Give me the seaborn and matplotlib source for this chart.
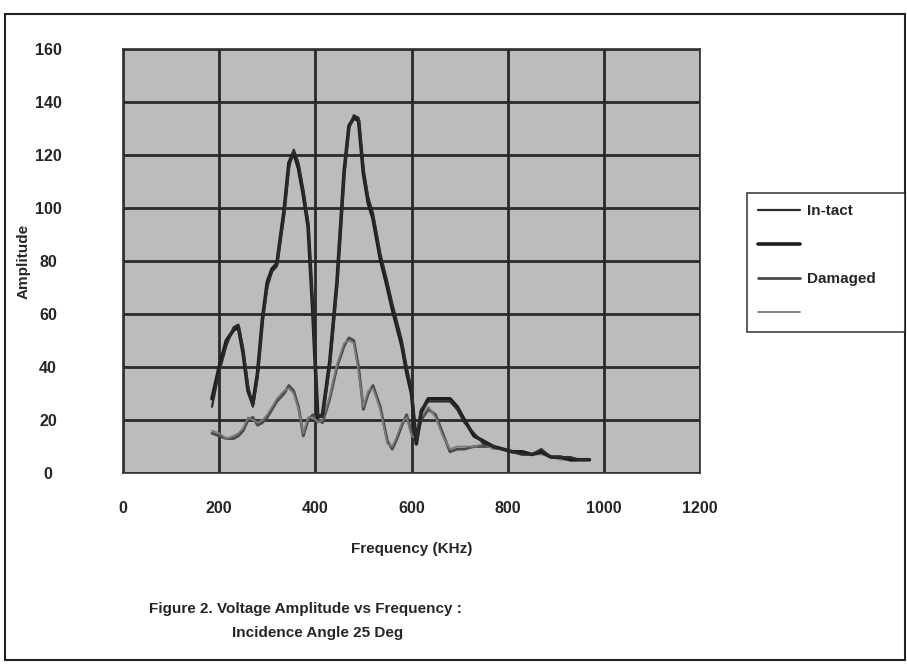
import matplotlib
matplotlib.use("Agg")
import matplotlib.pyplot as plt
import seaborn as sns
import pandas as pd
from matplotlib.patches import Rectangle

# ---- data ----
freq = [185, 200, 215, 230, 240, 250, 260, 270, 280, 290, 300, 310, 320, 335, 345,
        355, 365, 375, 385, 395, 405, 415, 430, 445, 460, 470, 480, 490, 500, 510,
        520, 535, 550, 560, 570, 580, 590, 600, 610, 620, 635, 650, 665, 680, 695,
        710, 730, 750, 770, 790, 810, 830, 850, 870, 890, 910, 930, 950, 970]

intact = [25, 38, 48, 55, 56, 47, 33, 25, 36, 57, 70, 76, 78, 97, 115,
          122, 117, 107, 95, 62, 22, 21, 40, 70, 112, 130, 135, 134, 115, 104,
          98, 83, 72, 64, 57, 50, 40, 32, 12, 24, 27, 27, 27, 27, 24,
          19, 15, 11, 10, 9, 8, 7, 7, 9, 6, 6, 6, 5, 5]

intact_2 = [28, 40, 50, 54, 55, 45, 31, 26, 38, 58, 72, 77, 79, 99, 117,
            121, 115, 105, 93, 60, 21, 22, 42, 72, 114, 131, 134, 133, 113, 102,
            96, 81, 70, 62, 55, 48, 38, 30, 11, 23, 28, 28, 28, 28, 25,
            20, 14, 12, 10, 9, 8, 8, 7, 8, 6, 6, 5, 5, 5]

damaged = [15, 14, 13, 13, 14, 16, 20, 21, 18, 19, 21, 24, 27, 30, 33,
           31, 25, 14, 20, 22, 20, 19, 28, 40, 48, 51, 50, 40, 24, 30,
           33, 25, 12, 9, 13, 18, 22, 15, 12, 20, 24, 22, 15, 8, 9,
           9, 10, 10, 10, 9, 8, 7, 7, 8, 6, 6, 5, 5, 5]

damaged_2 = [16, 15, 13, 14, 15, 17, 21, 20, 19, 20, 22, 25, 28, 31, 32,
             30, 24, 15, 21, 21, 19, 20, 29, 41, 49, 50, 49, 38, 25, 31,
             32, 24, 11, 10, 14, 19, 21, 14, 13, 21, 25, 21, 14, 9, 10,
             10, 10, 11, 9, 9, 8, 7, 7, 7, 6, 5, 5, 5, 5]

series_labels = ["In-tact", "", "Damaged", ""]
x_ticks = [0, 200, 400, 600, 800, 1000, 1200]
y_ticks = [0, 20, 40, 60, 80, 100, 120, 140, 160]

# ---- style ----
sns.set_theme(style="white")
plt.rcParams['font.family'] = ['Liberation Sans Narrow', 'Liberation Sans', 'DejaVu Sans']
plt.rcParams['font.weight'] = 'bold'

W, H = 907, 664
fig = plt.figure(figsize=(W / 100, H / 100), dpi=100)
fig.patch.set_facecolor('white')
ax = fig.add_axes([123 / W, 1 - 473 / H, (700 - 123) / W, (473 - 49) / H])
ax.set_facecolor('#bcbcbc')

styles = [
    dict(color='#2b2b2b', lw=1.6),   # In-tact
    dict(color='#1e1e1e', lw=2.6),   # unnamed
    dict(color='#4a4a4a', lw=2.0),   # Damaged
    dict(color='#7a7a7a', lw=1.3),   # unnamed
]
all_series = [intact, intact_2, damaged, damaged_2]
draw_order = [2, 3, 1, 0]
handles = [None] * 4
for i in draw_order:
    df = pd.DataFrame({'freq': freq, 'amp': all_series[i]})
    sns.lineplot(data=df, x='freq', y='amp', ax=ax, sort=False,
                 estimator=None, **styles[i])
    handles[i] = ax.lines[-1]

ax.set_xlim(0, 1200)
ax.set_ylim(0, 160)
ax.set_xticks(x_ticks)
ax.set_yticks(y_ticks)
ax.set_xticklabels([str(t) for t in x_ticks], fontsize=11.5, fontweight='bold')
ax.set_yticklabels([str(t) for t in y_ticks], fontsize=11.5, fontweight='bold', ha='center')
ax.grid(True, color='#2a2a2a', lw=2.0)
ax.set_axisbelow(True)
for s in ax.spines.values():
    s.set_visible(True)
    s.set_color('#333333')
    s.set_linewidth(1.2)
ax.tick_params(axis='x', direction='out', length=5, width=1.5, color='#333333', pad=15)
ax.tick_params(axis='y', direction='out', length=3, width=1.5, color='#333333', pad=51)

ax.set_xlabel('Frequency (KHz)', fontsize=11, fontweight='bold', labelpad=19)
ax.set_ylabel('Amplitude', fontsize=11, fontweight='bold')
ax.yaxis.set_label_coords(-92 / (700 - 123), 0.5)

leg = fig.legend(handles, series_labels, loc='upper left',
                 bbox_to_anchor=(747 / W, 1 - 333 / H, 158 / W, 140 / H),
                 mode='expand', borderaxespad=0, frameon=True,
                 fontsize=11, labelspacing=1.3, handlelength=2.75,
                 handletextpad=0.45, borderpad=0.75, fancybox=False)
leg.get_frame().set_edgecolor('#111111')
leg.get_frame().set_linewidth(1.2)
for t in leg.get_texts():
    t.set_fontweight('bold')

fig.text(305 / W, 1 - 609 / H, 'Figure 2. Voltage Amplitude vs Frequency :',
         ha='center', va='center', fontsize=11, fontweight='bold')
fig.text(318 / W, 1 - 633 / H, 'Incidence Angle 25 Deg',
         ha='center', va='center', fontsize=11, fontweight='bold')

fig.patches.append(Rectangle((5 / W, 1 - 660 / H), 900 / W, (660 - 14) / H,
                             transform=fig.transFigure, fill=False,
                             edgecolor='#222222', lw=1.5))

fig.savefig('out.png', dpi=100)
